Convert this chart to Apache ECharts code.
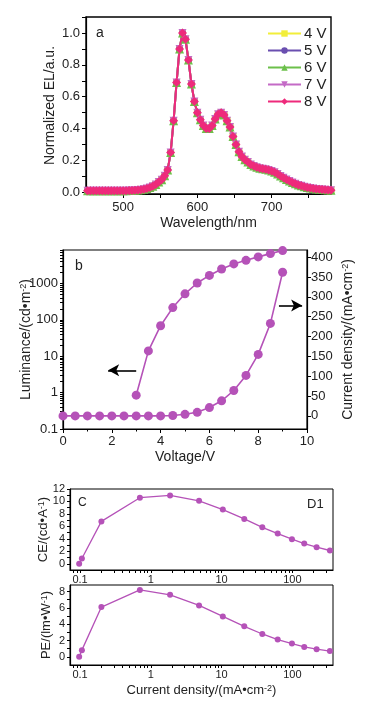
<!DOCTYPE html>
<html>
<head>
<meta charset="utf-8">
<script src="https://cdn.jsdelivr.net/npm/echarts@6/dist/echarts.min.js"></script>
<style>
  html, body { margin: 0; padding: 0; background: #fff; }
  #main { width: 372px; height: 713px; }
</style>
</head>
<body>
<div id="main"></div>
<script>
// panel a: EL spectra (all five voltages overlap)
const wavelength = [452, 456, 460, 464, 468, 472, 476, 480, 484, 488, 492, 496, 500, 504, 508,
  512, 516, 520, 524, 528, 532, 536, 540, 544, 548, 552, 556, 560, 564, 568, 572, 576, 580, 584, 588,
  592, 596, 600, 604, 608, 612, 616, 620, 624, 628, 632, 636, 640, 644, 648, 652, 656, 660, 664, 668,
  672, 676, 680, 684, 688, 692, 696, 700, 704, 708, 712, 716, 720, 724, 728, 732, 736, 740, 744, 748,
  752, 756, 760, 764, 768, 772, 776, 780];
const elSpectrum = [0.010, 0.010, 0.010, 0.010, 0.010, 0.010, 0.010, 0.010, 0.010, 0.010, 0.010, 0.011, 0.011, 0.011, 0.012,
  0.012, 0.013, 0.015, 0.017, 0.020, 0.024, 0.030, 0.038, 0.050, 0.065, 0.080, 0.105, 0.14, 0.25, 0.45, 0.69, 0.90, 1.00, 0.96, 0.83,
  0.68, 0.57, 0.50, 0.455, 0.42, 0.40, 0.40, 0.42, 0.46, 0.49, 0.50, 0.485, 0.45, 0.41, 0.35, 0.30, 0.255, 0.225, 0.205, 0.19,
  0.175, 0.165, 0.157, 0.152, 0.148, 0.145, 0.141, 0.135, 0.126, 0.115, 0.103, 0.092, 0.081, 0.071, 0.062, 0.054, 0.047, 0.041, 0.036, 0.031,
  0.027, 0.024, 0.022, 0.020, 0.018, 0.016, 0.015, 0.014];
const voltNames = ['4 V', '5 V', '6 V', '7 V', '8 V'];
const wlLabels = [500, 600, 700];
const wlTicks = [500, 550, 600, 650, 700, 750];
const elLabels = [0, 0.2, 0.4, 0.6, 0.8, 1.0];
const elTicks = [0, 0.1, 0.2, 0.3, 0.4, 0.5, 0.6, 0.7, 0.8, 0.9, 1.0, 1.1];

// panel b: luminance / current density vs voltage
const voltage = [0, 0.5, 1, 1.5, 2, 2.5, 3, 3.5, 4, 4.5, 5, 5.5, 6, 6.5, 7, 7.5, 8, 8.5, 9];
const currentDensity = [0, 0, 0, 0, 0, 0, 0, 0, 0, 1, 4, 9, 21, 38, 64, 102, 155, 233, 362];
const lumVoltage = [3, 3.5, 4, 4.5, 5, 5.5, 6, 6.5, 7, 7.5, 8, 8.5, 9];
const luminance = [0.85, 14, 69, 217, 519, 1030, 1660, 2500, 3440, 4320, 5370, 6600, 8000];
const lumLabels = [0.1, 1, 10, 100, 1000];
const lumMinor = [0.2, 0.3, 0.4, 0.5, 0.6, 0.7, 0.8, 0.9, 2, 3, 4, 5, 6, 7, 8, 9,
  20, 30, 40, 50, 60, 70, 80, 90, 200, 300, 400, 500, 600, 700, 800, 900,
  2000, 3000, 4000, 5000, 6000, 7000, 8000];
const curLabels = [0, 50, 100, 150, 200, 250, 300, 350, 400];

// panels c, d: efficiencies vs current density
const jDensity = [0.097, 0.106, 0.2, 0.7, 1.87, 4.8, 10.4, 20.9, 37.6, 62, 98.6, 147, 220, 339];
const ceValues = [0, 0.85, 6.8, 10.6, 10.97, 10.1, 8.7, 7.2, 5.85, 4.85, 3.94, 3.25, 2.66, 2.13];
const peValues = [0, 0.82, 6.1, 8.2, 7.6, 6.3, 4.95, 3.74, 2.8, 2.12, 1.63, 1.22, 0.94, 0.7];
const jLabels = [0.1, 1, 10, 100];
const jMinor = [0.08, 0.09, 0.2, 0.3, 0.4, 0.5, 0.6, 0.7, 0.8, 0.9, 2, 3, 4, 5, 6, 7, 8, 9,
  20, 30, 40, 50, 60, 70, 80, 90, 200, 300];
const ceLabels = [0, 2, 4, 6, 8, 10, 12];
const ceTicks = [0, 1, 2, 3, 4, 5, 6, 7, 8, 9, 10, 11, 12];
const peLabels = [0, 2, 4, 6, 8];
const peTicks = [0, 1, 2, 3, 4, 5, 6, 7, 8];

const FONT = '"Liberation Sans", Arial, sans-serif';
const TXT = '#222';
const PURPLE = '#b552b8';
const sup = { fontSize: 9, verticalAlign: 'top', fontFamily: FONT, color: TXT };

const lineColors = ['#f2ee3a', '#6a4fb0', '#6cc04b', '#c46ac6', '#ee2a7b'];
const symbols = ['rect', 'circle', 'triangle', 'triangle', 'diamond'];
const symbolSizes = [7, 7, 9, 8, 9];
const symbolRot = [0, 0, 0, 180, 0];

const zip = (xs, ys) => xs.map((x, i) => [x, ys[i]]);

const axisBase = {
  axisLine: { show: true, onZero: false, lineStyle: { color: '#000', width: 1.2 } },
  splitLine: { show: false },
  nameLocation: 'middle',
  nameMoveOverlap: false,
  nameTextStyle: { fontFamily: FONT, color: TXT },
};

const chart = echarts.init(document.getElementById('main'));

const option = {
  animation: false,
  textStyle: { fontFamily: FONT },
  grid: [
    { left: 86, top: 17, width: 245, height: 177, show: true, borderColor: '#000', borderWidth: 1.4 },
    { left: 63, top: 250, width: 244, height: 179, show: true, borderColor: '#000', borderWidth: 1.2 },
    { left: 70, top: 489, width: 263, height: 81, show: true, borderColor: '#000', borderWidth: 1 },
    { left: 70, top: 585, width: 263, height: 80, show: true, borderColor: '#000', borderWidth: 1 },
  ],
  legend: {
    orient: 'vertical',
    left: 262,
    top: 21,
    itemWidth: 33,
    itemHeight: 8,
    itemGap: 2,
    data: voltNames,
    textStyle: { fontSize: 15, color: TXT, fontFamily: FONT, padding: [0, 0, 0, -2] },
  },
  xAxis: [
    {
      ...axisBase, gridIndex: 0, type: 'value', min: 450, max: 780,
      name: 'Wavelength/nm', nameGap: 22,
      nameTextStyle: { fontSize: 14, color: TXT, fontFamily: FONT },
      axisTick: { customValues: wlTicks, length: 4, lineStyle: { color: '#000' } },
      axisLabel: { customValues: wlLabels, fontSize: 13, color: TXT, margin: 7 },
    },
    {
      ...axisBase, gridIndex: 1, type: 'value', min: 0, max: 10, interval: 2,
      name: 'Voltage/V', nameGap: 21,
      nameTextStyle: { fontSize: 14, color: TXT, fontFamily: FONT },
      axisTick: { length: 4, lineStyle: { color: '#000' } },
      minorTick: { show: true, splitNumber: 2, length: 2.5, lineStyle: { color: '#000' } },
      axisLabel: { fontSize: 13, color: TXT, margin: 6 },
    },
    {
      ...axisBase, gridIndex: 2, type: 'log', min: 0.072, max: 375,
      axisTick: { customValues: jLabels.concat(jMinor), length: 3, lineStyle: { color: '#000' } },
      axisLabel: { customValues: jLabels, fontSize: 11, color: TXT, margin: 4, formatter: v => String(v) },
    },
    {
      ...axisBase, gridIndex: 3, type: 'log', min: 0.072, max: 375,
      name: 'Current density/(mA•cm{s|-2})', nameGap: 19,
      nameTextStyle: { fontSize: 13, color: TXT, fontFamily: FONT, rich: { s: sup } },
      axisTick: { customValues: jLabels.concat(jMinor), length: 3, lineStyle: { color: '#000' } },
      axisLabel: { customValues: jLabels, fontSize: 11, color: TXT, margin: 4, formatter: v => String(v) },
    },
  ],
  yAxis: [
    {
      ...axisBase, gridIndex: 0, type: 'value', min: -0.01, max: 1.1,
      name: 'Normalized EL/a.u.', nameGap: 29,
      nameTextStyle: { fontSize: 14, color: TXT, fontFamily: FONT },
      axisTick: { customValues: elTicks, length: 4, lineStyle: { color: '#000' } },
      axisLabel: { customValues: elLabels, fontSize: 13, color: TXT, margin: 6, formatter: v => v.toFixed(1) },
    },
    {
      ...axisBase, gridIndex: 1, type: 'log', logBase: 10, min: 0.1, max: 8300, position: 'left',
      name: 'Luminance/(cd•m{s|-2})', nameGap: 30,
      nameTextStyle: { fontSize: 14, color: TXT, fontFamily: FONT, rich: { s: sup } },
      axisTick: { customValues: lumLabels.concat(lumMinor), length: 3, lineStyle: { color: '#000' } },
      axisLabel: { customValues: lumLabels, fontSize: 13, color: TXT, margin: 5, formatter: v => String(v) },
    },
    {
      ...axisBase, gridIndex: 1, type: 'value', min: -33, max: 418, position: 'right',
      name: 'Current density/(mA•cm{s|-2})', nameGap: 34,
      nameTextStyle: { fontSize: 14, color: TXT, fontFamily: FONT, rich: { s: sup } },
      axisTick: { customValues: curLabels, length: 4, lineStyle: { color: '#000' } },
      axisLabel: { customValues: curLabels, fontSize: 13, color: TXT, margin: 4 },
    },
    {
      ...axisBase, gridIndex: 2, type: 'value', min: -1, max: 12,
      name: 'CE/(cd•A{s|-1})', nameGap: 20,
      nameTextStyle: { fontSize: 13, color: TXT, fontFamily: FONT, rich: { s: sup } },
      axisTick: { customValues: ceTicks, length: 3, lineStyle: { color: '#000' } },
      axisLabel: { customValues: ceLabels, fontSize: 11, color: TXT, margin: 5 },
    },
    {
      ...axisBase, gridIndex: 3, type: 'value', min: -1, max: 8.8,
      name: 'PE/(lm•W{s|-1})', nameGap: 17,
      nameTextStyle: { fontSize: 13, color: TXT, fontFamily: FONT, rich: { s: sup } },
      axisTick: { customValues: peTicks, length: 3, lineStyle: { color: '#000' } },
      axisLabel: { customValues: peLabels, fontSize: 11, color: TXT, margin: 5 },
    },
  ],
  graphic: [
    { type: 'text', left: 96, top: 26, style: { text: 'a', font: '14px ' + FONT, fill: TXT } },
    { type: 'text', left: 75, top: 259, style: { text: 'b', font: '14px ' + FONT, fill: TXT } },
    { type: 'text', left: 78, top: 497, style: { text: 'C', font: '12px ' + FONT, fill: TXT } },
    { type: 'text', left: 307, top: 498, style: { text: 'D1', font: '13px ' + FONT, fill: TXT } },
  ],
  series: [
    ...voltNames.map((name, i) => ({
      name,
      type: 'line',
      xAxisIndex: 0,
      yAxisIndex: 0,
      data: zip(wavelength, elSpectrum),
      symbol: symbols[i],
      symbolSize: symbolSizes[i],
      symbolRotate: symbolRot[i],
      showAllSymbol: true,
      color: lineColors[i],
      lineStyle: { width: 2, color: lineColors[i] },
      itemStyle: { color: lineColors[i] },
    })),
    {
      name: 'Luminance',
      type: 'line',
      xAxisIndex: 1,
      yAxisIndex: 1,
      data: zip(lumVoltage, luminance),
      symbol: 'circle',
      symbolSize: 9,
      color: PURPLE,
      lineStyle: { width: 1.6, color: PURPLE },
      markLine: {
        silent: true,
        symbol: ['none', 'arrow'],
        symbolSize: [9, 11],
        label: { show: false },
        lineStyle: { color: '#000', width: 1.6, type: 'solid' },
        data: [[{ coord: [3.0, 4.1] }, { coord: [1.85, 4.1] }]],
      },
    },
    {
      name: 'Current',
      type: 'line',
      xAxisIndex: 1,
      yAxisIndex: 2,
      data: zip(voltage, currentDensity),
      symbol: 'circle',
      symbolSize: 9,
      color: PURPLE,
      lineStyle: { width: 1.6, color: PURPLE },
      markLine: {
        silent: true,
        symbol: ['none', 'arrow'],
        symbolSize: [9, 11],
        label: { show: false },
        lineStyle: { color: '#000', width: 1.6, type: 'solid' },
        data: [[{ coord: [8.85, 278] }, { coord: [9.8, 278] }]],
      },
    },
    {
      name: 'CE',
      type: 'line',
      xAxisIndex: 2,
      yAxisIndex: 3,
      data: zip(jDensity, ceValues),
      symbol: 'circle',
      symbolSize: 6,
      color: PURPLE,
      lineStyle: { width: 1.3, color: PURPLE },
    },
    {
      name: 'PE',
      type: 'line',
      xAxisIndex: 3,
      yAxisIndex: 4,
      data: zip(jDensity, peValues),
      symbol: 'circle',
      symbolSize: 6,
      color: PURPLE,
      lineStyle: { width: 1.3, color: PURPLE },
    },
  ],
};

chart.setOption(option);
</script>
</body>
</html>
